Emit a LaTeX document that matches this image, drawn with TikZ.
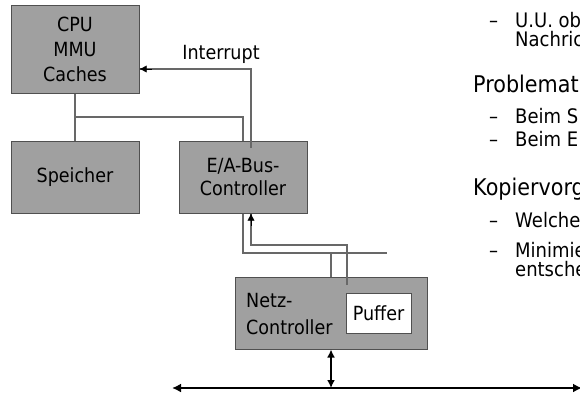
\documentclass[tikz,border=0pt]{standalone}
\usepackage{fontspec}
\setmainfont{DejaVu Sans}[FakeStretch=0.9]
\usetikzlibrary{arrows.meta}
\definecolor{boxfill}{HTML}{A0A0A0}
\definecolor{boxline}{HTML}{505050}
\definecolor{wire}{HTML}{686868}
\begin{document}
\begin{tikzpicture}[x=1pt,y=-1pt,
  unit/.style={draw=boxline,line width=1pt,fill=boxfill,inner sep=0pt,
    font=\fontsize{19.5}{25}\selectfont,align=center},
  wirel/.style={draw=wire,line width=1.4pt},
  bus/.style={line width=2.4pt,black},
  tip/.style={-{Latex[length=7pt,width=7pt]}},
  bullet/.style={anchor=base west,inner sep=0pt,font=\fontsize{23}{26}\selectfont},
  subbullet/.style={anchor=base west,inner sep=0pt,font=\fontsize{20}{22}\selectfont}]
\useasboundingbox (0,0) rectangle (580,399);
\begin{scope}
\clip (0,0) rectangle (580,399);
% boxes
\node[unit,minimum width=128pt,minimum height=88pt] (cpu) at (75,49) {CPU\\MMU\\Caches};
\node[unit,minimum width=128pt,minimum height=72pt] (speicher) at (75,177) {Speicher};
\node[unit,minimum width=128pt,minimum height=72pt,font=\fontsize{19.5}{23}\selectfont] (ea) at (243,177) {E/A-Bus-\\Controller};
\node[unit,minimum width=192pt,minimum height=72pt] (netz) at (331,313) {};
\node[anchor=west,inner sep=0pt,align=left,font=\fontsize{19.5}{27}\selectfont] (netztxt) at (246,314) {Netz-\\Controller};
\node[draw=boxline,line width=1pt,fill=white,minimum width=65pt,minimum height=40pt,inner sep=0pt,font=\fontsize{19.5}{24}\selectfont] (puffer) at (378.5,313) {Puffer};
% coordinates
\coordinate (j1) at (75,117);
\coordinate (j2) at (243,117);
\coordinate (irqstart) at (251,148);
\coordinate (irqturn) at (251,69);
\coordinate (d1) at (243,253);
\coordinate (dend) at (387,253);
\coordinate (d2) at (331,253);
\coordinate (u1) at (347,285);
\coordinate (u2) at (347,245);
\coordinate (u3) at (251,245);
\coordinate (busL) at (172,388);
\coordinate (busR) at (580,388);
\coordinate (busJ) at (331,388);
% wires
\draw[wirel] (cpu.south) -- (speicher.north);
\draw[wirel] (j1) -- (j2) -- (ea.north -| j2);
\draw[wirel] (irqstart) -- (irqturn) -- (irqturn -| cpu.east);
\draw[tip] ([xshift=12pt]irqturn -| cpu.east) -- (irqturn -| cpu.east);
\node[anchor=center,inner sep=0pt,font=\fontsize{19.5}{24}\selectfont] (irqlabel) at (221,54) {Interrupt};
\draw[wirel] (ea.south -| d1) -- (d1) -- (dend);
\draw[wirel] (d2) -- (netz.north -| d2);
\draw[wirel] (u1) -- (u2) -- (u3) -- (ea.south -| u3);
\draw[tip] ([yshift=-12pt]ea.south -| u3) -- (ea.south -| u3);
% network bus
\draw[bus,{Latex[length=8pt,width=8pt]}-{Latex[length=8pt,width=8pt]}] (netz.south -| busJ) -- (busJ);
\draw[bus,{Latex[length=9pt,width=9pt]}-{Latex[length=9pt,width=9pt]}] (busL) -- ([xshift=2pt]busR);
% right-hand text
\node[subbullet] (t1d) at (489,27) {–};
\node[subbullet] (t1) at (515,27) {U.U. ob};
\node[subbullet] (t1b) at (515,46) {Nachric};
\node[bullet] (t2) at (473,92) {Problemat};
\node[subbullet] (t3d) at (489,123) {–};
\node[subbullet] (t3) at (515,123) {Beim S};
\node[subbullet] (t4d) at (489,146) {–};
\node[subbullet] (t4) at (515,146) {Beim E};
\node[bullet] (t5) at (473,195) {Kopiervorg};
\node[subbullet] (t6d) at (489,227) {–};
\node[subbullet] (t6) at (515,227) {Welche};
\node[subbullet] (t7d) at (489,257) {–};
\node[subbullet] (t7) at (515,257) {Minimie};
\node[subbullet] (t7b) at (515,276) {entsche};
\end{scope}
\end{tikzpicture}
\end{document}
